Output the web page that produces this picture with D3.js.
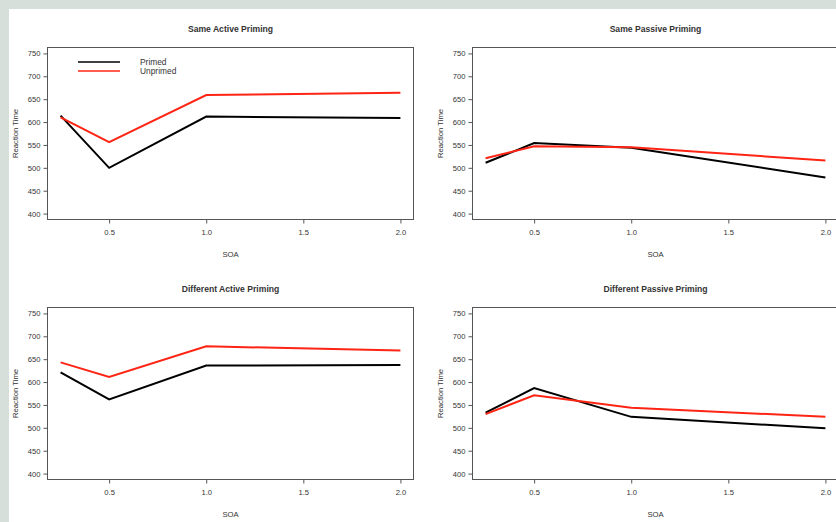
<!DOCTYPE html>
<html>
<head>
<meta charset="utf-8">
<script src="https://cdn.jsdelivr.net/npm/d3@7"></script>
<style>
  html, body { margin: 0; padding: 0; background: #d6dfda; }
  svg { display: block; }
  text { font-family: "Liberation Sans", Arial, Helvetica, sans-serif; fill: #333; }
</style>
</head>
<body>
<svg id="chart" width="836" height="522"></svg>
<script>
// ---- data ----
const soa = [0.25, 0.5, 1.0, 2.0];
const panelTitles = ["Same Active Priming", "Same Passive Priming", "Different Active Priming", "Different Passive Priming"];
const primedSameActive      = [614, 500, 612, 609];
const unprimedSameActive    = [610, 556, 659, 664];
const primedSamePassive     = [511, 554, 544, 479];
const unprimedSamePassive   = [521, 547, 545, 516];
const primedDiffActive      = [621, 562, 636, 637];
const unprimedDiffActive    = [643, 611, 678, 669];
const primedDiffPassive     = [533, 587, 524, 499];
const unprimedDiffPassive   = [530, 571, 544, 524];
const xTicks = [0.5, 1.0, 1.5, 2.0];
const yTicks = [400, 450, 500, 550, 600, 650, 700, 750];
const seriesNames = ["Primed", "Unprimed"];
const seriesColors = ["#000000", "#ff2414"];

const panelData = [
  [primedSameActive, unprimedSameActive],
  [primedSamePassive, unprimedSamePassive],
  [primedDiffActive, unprimedDiffActive],
  [primedDiffPassive, unprimedDiffPassive]
];

const svg = d3.select("#chart");
// white figure area
svg.append("rect").attr("x", 9).attr("y", 9).attr("width", 836).attr("height", 522).attr("fill", "#fff");

const axisColor = "#555";

panelData.forEach((series, i) => {
  const col = i % 2, row = Math.floor(i / 2);
  const left = 47 + col * 425, right = 414 + col * 425;
  const top = 47 + row * 260, bottom = 220 + row * 260;

  const x = d3.scaleLinear().domain([0.18, 2.07]).range([left, right]);
  const y = d3.scaleLinear().domain([386, 764]).range([bottom, top]);

  const g = svg.append("g");

  // box
  g.append("rect")
    .attr("x", left + 0.5).attr("y", top + 0.5)
    .attr("width", right - left - 1).attr("height", bottom - top - 1)
    .attr("fill", "none").attr("stroke", axisColor).attr("stroke-width", 1);

  // x axis
  const xa = g.append("g").attr("transform", `translate(0,${bottom - 0.5})`)
    .call(d3.axisBottom(x).tickValues(xTicks).tickFormat(d3.format(".1f")).tickSize(4).tickPadding(6));
  xa.select(".domain").remove();
  xa.selectAll("line").attr("stroke", axisColor);
  xa.selectAll("text").attr("font-size", "7.6px").attr("fill", "#333")
    .style("font-family", '"Liberation Sans", Arial, sans-serif');

  // y axis
  const ya = g.append("g").attr("transform", `translate(${left + 0.5},0)`)
    .call(d3.axisLeft(y).tickValues(yTicks).tickSize(4).tickPadding(3));
  ya.select(".domain").remove();
  ya.selectAll("line").attr("stroke", axisColor);
  ya.selectAll("text").attr("font-size", "7.6px").attr("fill", "#333")
    .style("font-family", '"Liberation Sans", Arial, sans-serif');

  // title
  g.append("text")
    .attr("x", (left + right) / 2).attr("y", top - 15)
    .attr("text-anchor", "middle").attr("font-size", "8.6px").attr("font-weight", "bold")
    .attr("fill", "#222")
    .text(panelTitles[i]);

  // axis labels
  g.append("text")
    .attr("x", (left + right) / 2).attr("y", bottom + 37)
    .attr("text-anchor", "middle").attr("font-size", "7.7px")
    .text("SOA");
  g.append("text")
    .attr("transform", `translate(${left - 29},${(top + bottom) / 2}) rotate(-90)`)
    .attr("text-anchor", "middle").attr("font-size", "7.7px")
    .text("Reaction Time");

  // lines
  const line = d3.line().x((d, j) => x(soa[j])).y(d => y(d));
  series.forEach((vals, k) => {
    g.append("path")
      .datum(vals)
      .attr("d", line)
      .attr("fill", "none")
      .attr("stroke", seriesColors[k])
      .attr("stroke-width", 2)
      .attr("stroke-linejoin", "miter");
  });

  // legend (first panel only)
  if (i === 0) {
    seriesNames.forEach((name, k) => {
      const ly = 62 + k * 9;
      g.append("line")
        .attr("x1", 78).attr("x2", 120).attr("y1", ly).attr("y2", ly)
        .attr("stroke", seriesColors[k]).attr("stroke-width", 1.5);
      g.append("text")
        .attr("x", 140).attr("y", ly + 3)
        .attr("font-size", "8.4px")
        .text(name);
    });
  }
});
</script>
</body>
</html>
